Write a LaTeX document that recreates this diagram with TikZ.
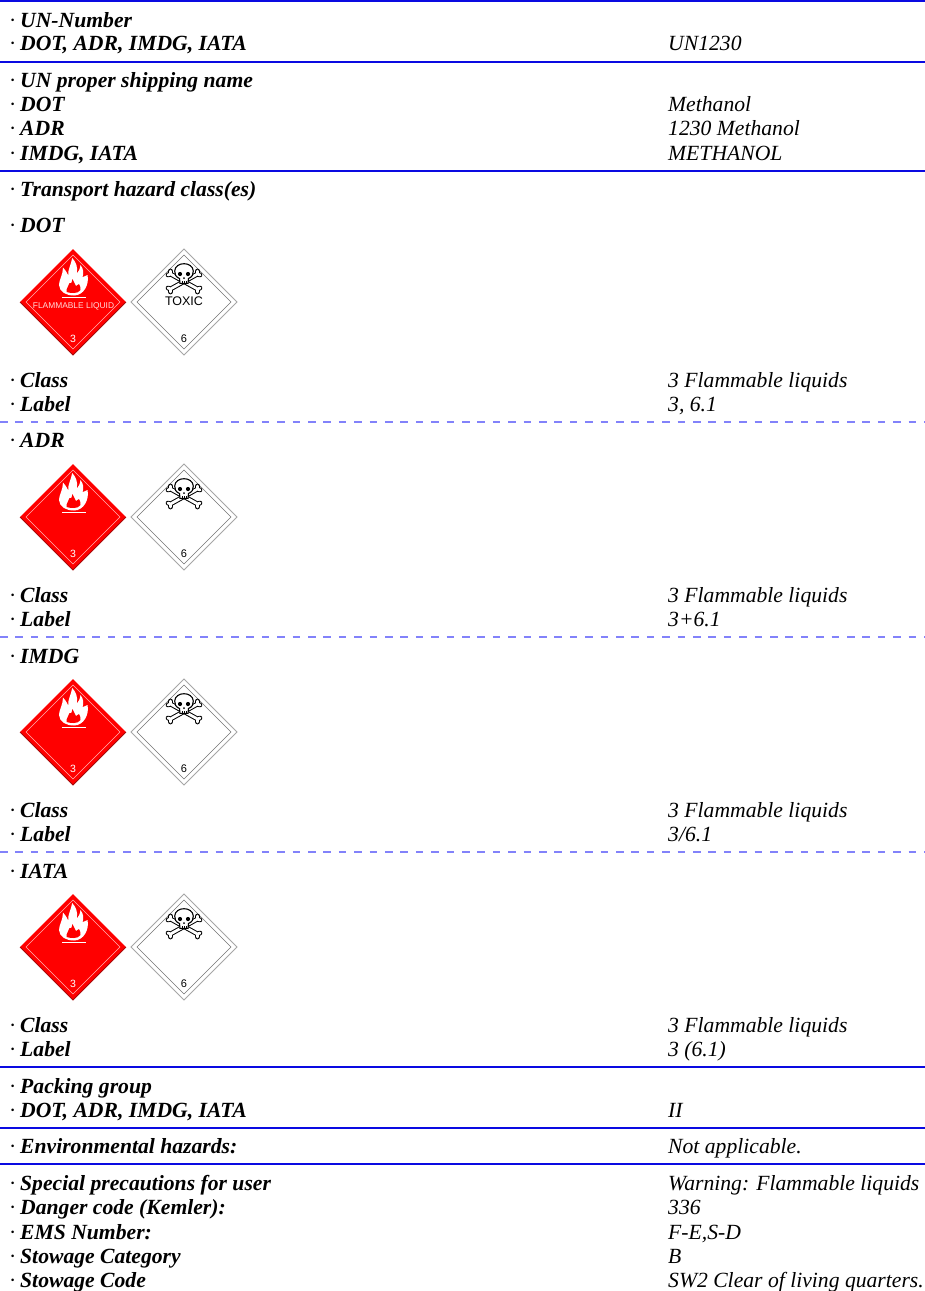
\documentclass[tikz,border=0pt]{standalone}
\usepackage{fontspec}
\setmainfont{Liberation Serif}
\newfontfamily\placardfont{Liberation Sans}
\definecolor{rulecol}{RGB}{10,10,225}
\definecolor{dashcol}{RGB}{130,130,250}
\definecolor{placardred}{RGB}{255,0,0}
\definecolor{placardedge}{RGB}{165,10,10}
\tikzset{
  x=1pt,y=-1pt,
  lefttext/.style={anchor=base west,inner sep=0pt,font=\fontsize{21.65}{24}\selectfont\bfseries\itshape},
  righttext/.style={anchor=base west,inner sep=0pt,font=\fontsize{21.65}{24}\selectfont\itshape},
  solidrule/.style={draw=rulecol,line width=1.5pt},
  dashrule/.style={draw=dashcol,line width=1.4pt,dash pattern=on 7.5pt off 7.9pt},
  redtext/.style={inner sep=0pt,text=white,font=\placardfont\fontsize{10.5}{11}\selectfont},
  blacktext/.style={inner sep=0pt,text=black,font=\placardfont\fontsize{11}{12}\selectfont},
  pics/flame/.style={code={
    \fill[white] (1,-6.5) .. controls (-7,-6.5) and (-13.5,-10) .. (-14,-17)
      .. controls (-14,-22) and (-10,-27) .. (-10,-34.5)
      .. controls (-8,-32) and (-6,-30) .. (-4.7,-26.5)
      .. controls (-5.5,-32) and (-2,-37) .. (-0.8,-44)
      .. controls (3,-40) and (5,-35) .. (3.8,-28.5)
      .. controls (5.5,-30) and (7,-33) .. (7.5,-37)
      .. controls (10.5,-33) and (11,-29) .. (9.5,-25)
      .. controls (11,-25.5) and (13,-26) .. (14.5,-27)
      .. controls (16.5,-18) and (11,-6.5) .. (1,-6.5) -- cycle;
    \fill[placardred] (-6.5,-10) .. controls (-7,-14) and (-4,-16) .. (-3.5,-19)
      .. controls (-2.5,-18) and (-1.5,-18) .. (-0.5,-23)
      .. controls (1,-20) and (2,-18) .. (3,-16)
      .. controls (4,-17) and (5,-17.5) .. (6,-18)
      .. controls (7,-16) and (8,-14) .. (7.5,-12)
      .. controls (6,-10) and (4,-9) .. (1,-9)
      .. controls (-1,-9) and (-4,-9) .. (-6.5,-10) -- cycle;
    \draw[white,line width=.9pt] (-11,-4.7) -- (13,-4.7);
  }},
  pics/bone/.style={code={
    \draw[black,line cap=round,line width=4.8pt] (-13.5,-7.5) -- (13.5,7.5)
      (-16,-6.5) -- (-13.5,-7.5) -- (-13.5,-10.5) (16,6.5) -- (13.5,7.5) -- (13.5,10.5);
    \draw[white,line cap=round,line width=2.8pt] (-13.5,-7.5) -- (13.5,7.5)
      (-16,-6.5) -- (-13.5,-7.5) -- (-13.5,-10.5) (16,6.5) -- (13.5,7.5) -- (13.5,10.5);
  }},
  pics/skull/.style={code={
    \pic at (0,-20.5) {bone};
    \pic[xscale=-1] at (0,-20.5) {bone};
    \draw[black,fill=white,line width=1.1pt] (-4,-18.7) -- (-4.5,-23.5)
      .. controls (-8.5,-25) and (-9.3,-28) .. (-9.3,-31)
      .. controls (-9,-36) and (-4.5,-38.3) .. (0,-38.3)
      .. controls (4.5,-38.3) and (9,-36) .. (9.3,-31)
      .. controls (9.3,-28) and (8.5,-25) .. (4.5,-23.5) -- (4,-18.7) -- cycle;
    \fill[black] (-4,-28) circle (2.1);
    \fill[black] (4,-28) circle (2.1);
    \fill[black] (0,-23.8) circle (1);
    \draw[black,line width=.7pt] (-2,-19) -- (-2,-21) (0,-19) -- (0,-21) (2,-19) -- (2,-21);
  }},
  pics/reddiamond/.style={code={
    \fill[placardred] (0,-53) -- (53,0) -- (0,53) -- (-53,0) -- cycle;
    \draw[placardedge,line width=1pt] (53,0) -- (0,53) -- (-53,0);
    \draw[white!70!placardred,line width=.6pt] (0,-47) -- (47,0) -- (0,47) -- (-47,0) -- cycle;
    \pic {flame};
    \node[redtext] (-num) at (0,37) {3};
  }},
  pics/whitediamond/.style={code={
    \draw[draw=black!35,fill=white,line width=.8pt] (0,-53) -- (53,0) -- (0,53) -- (-53,0) -- cycle;
    \draw[draw=black!55,line width=.6pt] (0,-47) -- (47,0) -- (0,47) -- (-47,0) -- cycle;
    \pic {skull};
    \node[blacktext] (-num) at (0,37) {6};
  }}
}
\newcommand{\linepair}[4]{%
  \node[lefttext] (#1L) at (9,#2) {\makebox[11pt][l]{\normalfont·}#3};
  \node[righttext] (#1R) at (668,#2) {#4};
}
\newcommand{\leftonly}[3]{\node[lefttext] (#1L) at (9,#2) {\makebox[11pt][l]{\normalfont·}#3};}
\begin{document}
\begin{tikzpicture}
\useasboundingbox (0,0) rectangle (925,1291);
\fill[white] (0,0) rectangle (925,1291);
% rules
\draw[solidrule] (0,1) -- (925,1);
\draw[solidrule] (0,62) -- (925,62);
\draw[solidrule] (0,171) -- (925,171);
\draw[dashrule] (0,422) -- (925,422);
\draw[dashrule] (0,637) -- (925,637);
\draw[dashrule] (0,852) -- (925,852);
\draw[solidrule] (0,1067) -- (925,1067);
\draw[solidrule] (0,1128) -- (925,1128);
\draw[solidrule] (0,1164) -- (925,1164);
% text
\leftonly{a}{27}{UN-Number}
\linepair{b}{50}{DOT, ADR, IMDG, IATA}{UN1230}
\leftonly{c}{87}{UN proper shipping name}
\linepair{d}{111}{DOT}{Methanol}
\linepair{e}{135}{ADR}{1230 Methanol}
\linepair{f}{160}{IMDG, IATA}{METHANOL}
\leftonly{g}{196}{Transport hazard class(es)}
\leftonly{h}{232}{DOT}
\linepair{i}{387}{Class}{3 Flammable liquids}
\linepair{j}{411}{Label}{3, 6.1}
\leftonly{k}{447}{ADR}
\linepair{l}{602}{Class}{3 Flammable liquids}
\linepair{m}{626}{Label}{3+6.1}
\leftonly{n}{663}{IMDG}
\linepair{o}{817}{Class}{3 Flammable liquids}
\linepair{p}{841}{Label}{3/6.1}
\leftonly{q}{878}{IATA}
\linepair{r}{1032}{Class}{3 Flammable liquids}
\linepair{s}{1056}{Label}{3 (6.1)}
\leftonly{t}{1093}{Packing group}
\linepair{u}{1117}{DOT, ADR, IMDG, IATA}{II}
\linepair{v}{1153}{Environmental hazards:}{Not applicable.}
\linepair{w}{1190}{Special precautions for user}{Warning: Flammable liquids}
\linepair{x}{1214}{Danger code (Kemler):}{336}
\linepair{y}{1239}{EMS Number:}{F-E,S-D}
\linepair{z}{1263}{Stowage Category}{B}
\linepair{aa}{1287}{Stowage Code}{SW2 Clear of living quarters.}
% placards
\pic (rdot) at (73,302) {reddiamond};
\node[redtext,font=\placardfont\fontsize{8.4}{9}\selectfont,text=white!85!placardred] (flamtext) at (73.5,306) {FLAMMABLE LIQUID};
\pic (wdot) at (184,302) {whitediamond};
\node[blacktext,font=\placardfont\fontsize{12.5}{13}\selectfont] (toxictext) at (184,301.5) {TOXIC};
\pic (radr) at (73,517) {reddiamond};
\pic (wadr) at (184,517) {whitediamond};
\pic (rimdg) at (73,732) {reddiamond};
\pic (wimdg) at (184,732) {whitediamond};
\pic (riata) at (73,947) {reddiamond};
\pic (wiata) at (184,947) {whitediamond};
\end{tikzpicture}
\end{document}
